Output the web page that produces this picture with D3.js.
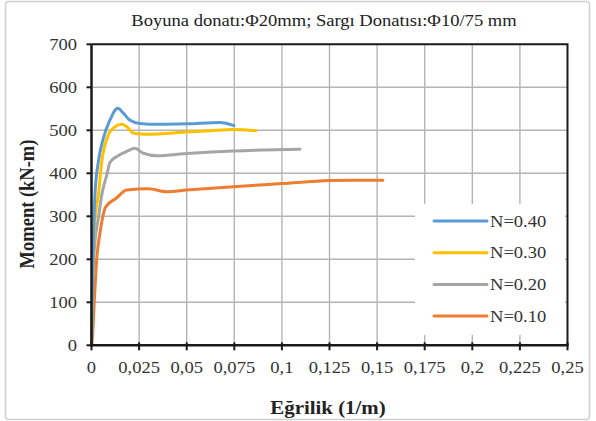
<!DOCTYPE html>
<html>
<head>
<meta charset="utf-8">
<script src="https://cdn.jsdelivr.net/npm/d3@7"></script>
<style>
  body { margin: 0; background: #fff; }
  svg { display: block; font-family: "Liberation Serif", "Times New Roman", serif; }
</style>
</head>
<body>
<svg width="596" height="421"></svg>
<script>
// Moment-curvature curves, values
const xTicks = [0, 0.025, 0.05, 0.075, 0.1, 0.125, 0.15, 0.175, 0.2, 0.225, 0.25];
const yTicks = [0, 100, 200, 300, 400, 500, 600, 700];

const n40x = [0, 0.0008, 0.0018, 0.0036, 0.0062, 0.0097, 0.0138, 0.0165, 0.0200, 0.0255, 0.035, 0.05, 0.0675, 0.0748];
const n40y = [0, 200, 350, 427, 481, 524, 551, 541, 524, 516, 514, 515, 518, 511];

const n30x = [0, 0.0007, 0.0018, 0.0036, 0.0054, 0.0088, 0.0123, 0.0159, 0.0193, 0.022, 0.029, 0.05, 0.0622, 0.0745, 0.0864];
const n30y = [0, 180, 290, 350, 427, 489, 508, 514, 505, 493, 491, 496, 499, 502, 499];

const n20x = [0, 0.0006, 0.0018, 0.0036, 0.0054, 0.008, 0.0097, 0.014, 0.0185, 0.0228, 0.027, 0.0342, 0.05, 0.0745, 0.1095];
const n20y = [0, 150, 240, 296, 350, 396, 425, 441, 451, 458, 447, 441, 446, 452, 456];

const n10x = [0, 0.0004, 0.0015, 0.0027, 0.0045, 0.0075, 0.013, 0.0185, 0.0298, 0.0395, 0.05, 0.0745, 0.1, 0.125, 0.1375, 0.153];
const n10y = [0, 12, 105, 198, 262, 322, 342, 361, 364, 357, 361, 369, 376, 383, 384, 384];

const seriesNames = ['N=0.40', 'N=0.30', 'N=0.20', 'N=0.10'];
const seriesColors = ['#5B9BD5', '#FFC000', '#A5A5A5', '#ED7D31'];

const series = [
  {name: seriesNames[0], color: seriesColors[0], xs: n40x, ys: n40y},
  {name: seriesNames[1], color: seriesColors[1], xs: n30x, ys: n30y},
  {name: seriesNames[2], color: seriesColors[2], xs: n20x, ys: n20y},
  {name: seriesNames[3], color: seriesColors[3], xs: n10x, ys: n10y}
];

const svg = d3.select('svg');

const x = d3.scaleLinear().domain([0, 0.25]).range([91.5, 567.5]);
const y = d3.scaleLinear().domain([0, 700]).range([345.3, 44.3]);
const fmt = d => String(d).replace('.', ',');

// the picture is a bit stretched sideways, so text gets the same stretch
const stretch = 1.16;
const at = (px, py) => `translate(${px},${py}) scale(${stretch},1)`;

// outer chart frame
svg.append('rect')
  .attr('x', 5.5).attr('y', 1.5)
  .attr('width', 584).attr('height', 418)
  .attr('rx', 3)
  .attr('fill', '#fff')
  .attr('stroke', '#d0d0d0')
  .attr('stroke-width', 1.5);

// title
svg.append('text')
  .attr('transform', at(324, 26))
  .attr('text-anchor', 'middle')
  .attr('font-size', 16)
  .attr('fill', '#222')
  .text('Boyuna donatı:Φ20mm; Sargı Donatısı:Φ10/75 mm');

// grid
const grid = svg.append('g').attr('stroke', '#b4b4b4').attr('stroke-width', 1.4);
grid.selectAll('line.v')
  .data(xTicks.slice(1, -1))
  .join('line')
  .attr('class', 'v')
  .attr('x1', d => x(d)).attr('x2', d => x(d))
  .attr('y1', y(700)).attr('y2', y(0));
grid.selectAll('line.h')
  .data(yTicks.slice(1, -1))
  .join('line')
  .attr('class', 'h')
  .attr('x1', x(0)).attr('x2', x(0.25))
  .attr('y1', d => y(d)).attr('y2', d => y(d));

// top and right border
svg.append('path')
  .attr('d', `M${x(0)},${y(700)}H${x(0.25)}V${y(0)}`)
  .attr('fill', 'none')
  .attr('stroke', '#1a1a1a')
  .attr('stroke-width', 2);

// curves
const line = d3.line()
  .x(d => x(d[0]))
  .y(d => y(d[1]))
  .curve(d3.curveMonotoneX);

svg.append('g')
  .selectAll('path')
  .data(series.slice().reverse())
  .join('path')
  .attr('d', s => line(s.xs.map((v, i) => [v, s.ys[i]])))
  .attr('fill', 'none')
  .attr('stroke', s => s.color)
  .attr('stroke-width', 3)
  .attr('stroke-linejoin', 'round')
  .attr('stroke-linecap', 'round');

// axes
const axes = svg.append('g').attr('stroke', '#1a1a1a');
axes.append('line')
  .attr('x1', x(0)).attr('x2', x(0))
  .attr('y1', y(700)).attr('y2', y(0))
  .attr('stroke-width', 2.5);
axes.append('line')
  .attr('x1', x(0) - 1).attr('x2', x(0.25) + 1)
  .attr('y1', y(0)).attr('y2', y(0))
  .attr('stroke-width', 2.5);
axes.selectAll('line.yt')
  .data(yTicks)
  .join('line')
  .attr('class', 'yt')
  .attr('x1', x(0) - 5).attr('x2', x(0))
  .attr('y1', d => y(d)).attr('y2', d => y(d))
  .attr('stroke-width', 2);
axes.selectAll('line.xt')
  .data(xTicks)
  .join('line')
  .attr('class', 'xt')
  .attr('x1', d => x(d)).attr('x2', d => x(d))
  .attr('y1', y(0) - 3).attr('y2', y(0) + 5)
  .attr('stroke-width', 2);

// tick labels
svg.append('g')
  .selectAll('text')
  .data(yTicks)
  .join('text')
  .attr('transform', d => at(77, y(d)))
  .attr('dy', '0.35em')
  .attr('text-anchor', 'end')
  .attr('font-size', 16)
  .attr('fill', '#333')
  .text(d => d);

svg.append('g')
  .selectAll('text')
  .data(xTicks)
  .join('text')
  .attr('transform', d => at(x(d), 373))
  .attr('text-anchor', 'middle')
  .attr('font-size', 16)
  .attr('fill', '#333')
  .text(d => fmt(d));

// axis titles
svg.append('text')
  .attr('transform', `translate(34,204) scale(${stretch},1) rotate(-90)`)
  .attr('text-anchor', 'middle')
  .attr('font-size', 18.5)
  .attr('font-weight', 'bold')
  .attr('fill', '#222')
  .text('Moment (kN-m)');

svg.append('text')
  .attr('transform', at(328, 414))
  .attr('text-anchor', 'middle')
  .attr('font-size', 18)
  .attr('font-weight', 'bold')
  .attr('fill', '#222')
  .text('Eğrilik (1/m)');

// legend
const legend = svg.append('g');
legend.append('rect')
  .attr('x', 415).attr('y', 204)
  .attr('width', 150).attr('height', 131)
  .attr('fill', '#fff');
const item = legend.selectAll('g')
  .data(series)
  .join('g')
  .attr('transform', (d, i) => `translate(0,${221 + i * 31.7})`);
item.append('line')
  .attr('x1', 434).attr('x2', 487)
  .attr('stroke', d => d.color)
  .attr('stroke-width', 3)
  .attr('stroke-linecap', 'round');
item.append('text')
  .attr('transform', at(490, 0))
  .attr('dy', '0.35em')
  .attr('font-size', 16)
  .attr('fill', '#333')
  .text(d => d.name);
</script>
</body>
</html>
